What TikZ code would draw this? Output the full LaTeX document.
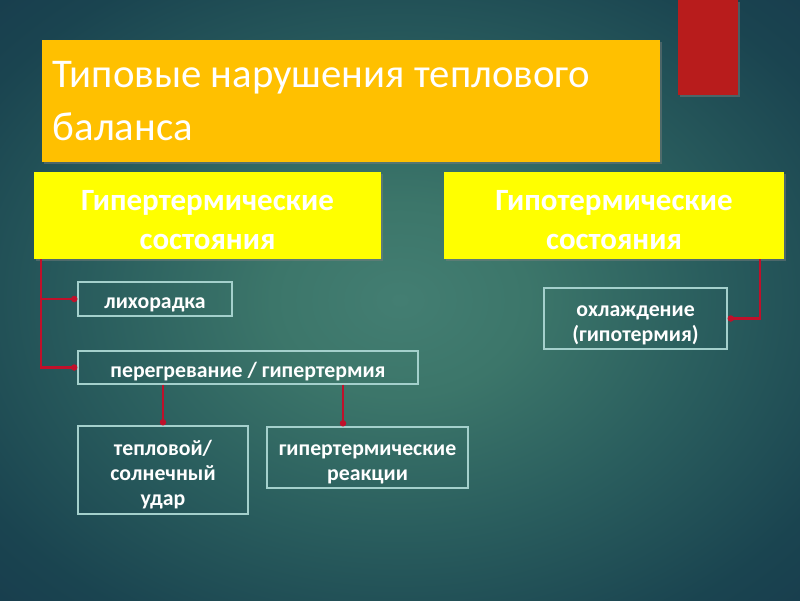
\documentclass[tikz,border=0pt]{standalone}
\usepackage{fontspec}
\setmainfont{Carlito}
\usepackage{tikz}
\usetikzlibrary{arrows.meta, positioning, calc, shadows}

\definecolor{bginner}{HTML}{437E72}
\definecolor{bgnear}{HTML}{3C766A}
\definecolor{bgmid}{HTML}{2A5E5E}
\definecolor{bgedge}{HTML}{1A4450}
\definecolor{bgouter}{HTML}{15344A}
\definecolor{headorange}{HTML}{FFC000}
\definecolor{groupyellow}{HTML}{FFFF00}
\definecolor{barred}{HTML}{B81C1C}
\definecolor{linkred}{HTML}{C0102A}
\definecolor{frameline}{HTML}{A4D0CC}
\pgfdeclareradialshading{slidebg}{\pgfpoint{0bp}{0bp}}{color(0bp)=(bginner); color(8bp)=(bgnear); color(19bp)=(bgmid); color(31bp)=(bgedge); color(44bp)=(bgouter)}
\newcommand{\upstrut}{\rule{0pt}{1.25em}}

\begin{document}
\begin{tikzpicture}[
    x=0.025cm, y=-0.025cm,
    pptline/.style={execute at begin node={\rule{0pt}{#1}},
        execute at end node={\rule[-0.3em]{0pt}{0pt}}},
    headbox/.style={rectangle, fill=headorange, text=white, align=flush left, pptline=0.95em,
        inner xsep=0.275cm, inner ysep=0pt, text width=14.9cm, minimum height=3.05cm,
        font=\fontsize{29}{37.6}\selectfont,
        drop shadow={shadow xshift=1.5pt, shadow yshift=-1.5pt, opacity=0.45}},
    groupbox/.style={rectangle, fill=groupyellow, text=white, align=center, pptline=1.25em,
        inner sep=0pt, minimum height=2.075cm,
        font=\fontsize{22}{27.6}\selectfont\bfseries,
        drop shadow={shadow xshift=1.5pt, shadow yshift=-1.5pt, opacity=0.45}},
    itembox/.style={rectangle, draw=frameline, line width=0.8pt, text=white, align=center, pptline=1.2em,
        inner sep=0pt, font=\fontsize{15.5}{18}\selectfont\bfseries},
    link/.style={draw=linkred, line width=1.5pt, -{Circle[length=4.5pt]}}
]
\useasboundingbox (0,0) rectangle (800,600);
\shade[shading=slidebg] (0,0) rectangle (800,600);
% red corner bar
\fill[barred, drop shadow={shadow xshift=1.5pt, shadow yshift=-1.5pt, opacity=0.45}] (678,0) rectangle (738,95);

\node[headbox] (title) at (351,101) {Типовые нарушения теплового\\баланса};
\node[groupbox, minimum width=8.675cm] (hyper) at (207.5,215.5) {\upstrut Гипертермические\\состояния};
\node[groupbox, minimum width=8.5cm] (hypo) at (614,215.5) {\upstrut Гипотермические\\состояния};

\node[itembox, minimum width=3.85cm, minimum height=0.85cm] (fever) at (155,299) {лихорадка};
\node[itembox, minimum width=8.5cm, minimum height=0.825cm] (overheat) at (248,367.5) {перегревание / гипертермия};
\node[itembox, minimum width=4.25cm, minimum height=2.2cm] (stroke) at (163,470) {\upstrut тепловой/\\солнечный\\удар};
\node[itembox, minimum width=5.025cm, minimum height=1.525cm] (reaction) at (367.5,457.5) {\upstrut гипертермические\\реакции};
\node[itembox, minimum width=4.575cm, minimum height=1.525cm] (cooling) at (635.5,318.5) {\upstrut охлаждение\\(гипотермия)};

\coordinate (rtop) at ($(reaction.north)+(-24.5,0)$);
\draw[link] (hyper.south west) ++(7,0) |- (fever.west);
\draw[link] (hyper.south west) ++(7,0) |- (overheat.west);
\draw[link] (overheat.south -| stroke.north) -- (stroke.north);
\draw[link] (overheat.south -| rtop) -- (rtop);
\draw[link] (hypo.south east) ++(-24,0) |- (cooling.east);
\end{tikzpicture}
\end{document}
